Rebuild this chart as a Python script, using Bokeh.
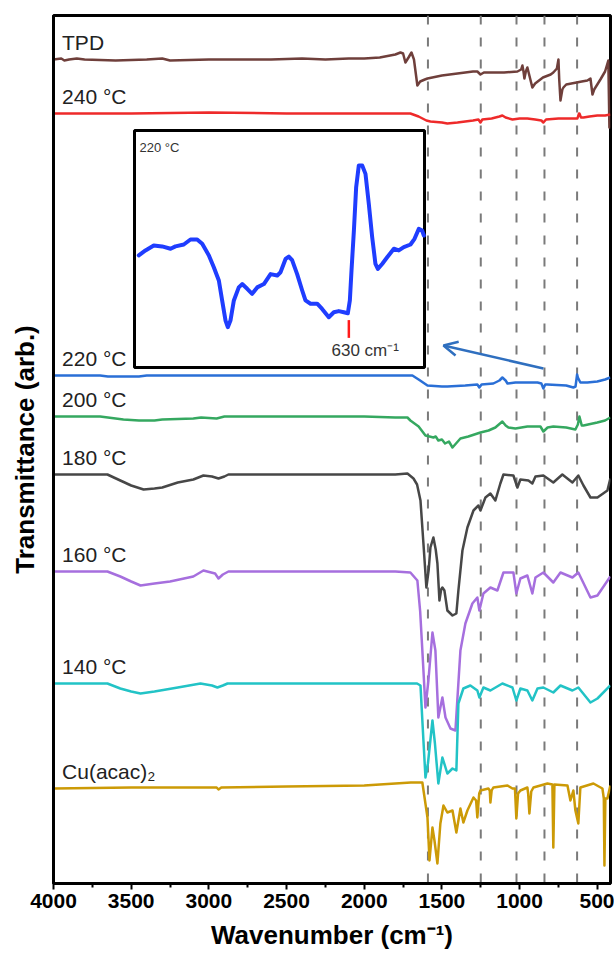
from bokeh.plotting import figure
from bokeh.models import Range1d, FixedTicker, Span, Arrow, OpenHead, ColumnDataSource
from bokeh.core.properties import value
from bokeh.embed import file_html
from bokeh.resources import INLINE

# ---------------- data ----------------
labels = ["TPD", "240 °C", "220 °C", "200 °C", "180 °C", "160 °C", "140 °C", "Cu(acac)₂"]
offsets = [8.24, 7.70, 5.08, 4.67, 4.09, 3.12, 2.00, 0.95]
colors = ["#6F3F3B", "#EE2A2A", "#2A6FD6", "#35A860", "#474747", "#A66FDE", "#22C3C6", "#CC9A06"]

tpd_wn = [4000, 3950, 3930, 3900, 3850, 3800, 3600, 3400, 3300, 3250, 3000, 2600, 2400, 2250, 2100, 2000,
          1900, 1800, 1767, 1750, 1735, 1715, 1696, 1680, 1658, 1640, 1610, 1593, 1500, 1400, 1300, 1272,
          1252, 1230, 1100, 1014, 990, 982, 975, 969, 960, 950, 918, 900, 850, 800, 783, 760, 750, 745,
          737, 725, 718, 700, 600, 564, 544, 531, 520, 512, 480, 450, 429, 422, 416]
tpd_t = [0.0, 0.01, -0.01, 0.0, 0.01, 0.0, -0.01, 0.0, 0.01, -0.01, 0.0, 0.0, 0.01, 0.0, 0.01, 0.01,
         0.02, 0.05, 0.07, 0.06, -0.03, 0.02, 0.07, 0.0, -0.26, -0.22, -0.20, -0.19, -0.16, -0.14, -0.12, -0.12,
         -0.15, -0.13, -0.13, -0.12, -0.10, -0.06, -0.12, -0.19, -0.12, -0.08, -0.28, -0.24, -0.18, -0.15, -0.13, -0.09, 0.0, -0.20,
         -0.41, -0.30, -0.28, -0.25, -0.22, -0.21, -0.19, -0.35, -0.30, -0.28, -0.20, -0.12, -0.01, -0.68, -0.68]

t240_wn = [4000, 3500, 3000, 2500, 2000, 1800, 1703, 1650, 1600, 1574, 1500, 1465, 1400, 1300, 1265, 1252,
           1240, 1180, 1130, 1111, 1090, 1046, 1000, 950, 900, 860, 847, 830, 750, 700, 650, 628, 618, 615,
           605, 589, 550, 500, 450, 416]
t240_t = [0.0, 0.0, 0.01, 0.0, 0.0, 0.0, 0.0, -0.03, -0.07, -0.08, -0.09, -0.10, -0.09, -0.07, -0.06, -0.09,
          -0.06, -0.05, -0.03, -0.02, -0.04, -0.06, -0.05, -0.05, -0.06, -0.07, -0.09, -0.06, -0.05, -0.05, -0.05, -0.05, 0.0, 0.0,
          -0.04, -0.04, -0.03, -0.02, -0.02, -0.01]

t220_wn = [4000, 3700, 3650, 3450, 3400, 3000, 2900, 2000, 1800, 1690, 1650, 1593, 1500, 1465, 1350, 1272,
           1259, 1245, 1169, 1130, 1111, 1090, 1078, 1027, 950, 885, 860, 847, 835, 821, 700, 654, 640, 630,
           625, 609, 564, 500, 450, 416]
t220_t = [0.0, 0.0, -0.01, -0.01, 0.0, 0.0, 0.0, 0.0, 0.0, 0.0, -0.04, -0.10, -0.11, -0.11, -0.10, -0.09,
          -0.12, -0.09, -0.08, -0.05, -0.02, -0.05, -0.08, -0.07, -0.07, -0.07, -0.08, -0.13, -0.09, -0.09, -0.10, -0.12, -0.11, 0.01,
          -0.02, -0.07, -0.07, -0.06, -0.04, -0.02]

t200_wn = [4000, 3700, 3650, 3550, 3450, 3350, 3300, 3100, 3050, 2950, 2900, 2500, 2000, 1800, 1722, 1703,
           1650, 1606, 1580, 1555, 1540, 1523, 1500, 1480, 1455, 1432, 1415, 1381, 1330, 1252, 1200, 1156,
           1111, 1090, 1072, 1027, 950, 866, 847, 820, 783, 700, 641, 625, 615, 600, 589, 500, 450, 416]
t200_t = [0.0, 0.0, -0.01, -0.03, -0.04, -0.04, -0.03, -0.02, -0.01, -0.02, 0.0, 0.0, 0.0, -0.01, -0.01, -0.04,
          -0.10, -0.19, -0.20, -0.21, -0.20, -0.24, -0.23, -0.27, -0.25, -0.31, -0.28, -0.22, -0.20, -0.16, -0.14, -0.11,
          -0.05, -0.09, -0.11, -0.12, -0.10, -0.10, -0.15, -0.11, -0.10, -0.11, -0.13, -0.08, 0.0, -0.09, -0.09, -0.06, -0.04, -0.01]

t180_wn = [4000, 3700, 3653, 3570, 3500, 3420, 3350, 3300, 3200, 3100, 3035, 2980, 2938, 2900, 2874, 2500,
           2000, 1800, 1722, 1683, 1660, 1638, 1619, 1600, 1585, 1574, 1555, 1540, 1529, 1516, 1505, 1497,
           1484, 1465, 1432, 1407, 1394, 1368, 1336, 1297, 1265, 1252, 1220, 1188, 1156, 1124, 1104, 1040,
           1014, 995, 943, 918, 898, 847, 783, 725, 660, 622, 589, 544, 499, 435, 416]
t180_t = [0.0, 0.0, 0.0, -0.06, -0.11, -0.15, -0.14, -0.13, -0.08, -0.05, -0.01, -0.02, -0.04, -0.02, 0.0, 0.0,
          0.0, 0.0, 0.01, -0.04, -0.10, -0.26, -0.69, -1.13, -0.95, -0.73, -0.63, -0.75, -0.89, -1.26, -1.15, -1.13,
          -1.16, -1.36, -1.41, -1.39, -1.16, -0.76, -0.53, -0.36, -0.31, -0.36, -0.23, -0.19, -0.26, -0.09, 0.0, -0.01,
          -0.13, -0.05, -0.06, -0.09, -0.02, -0.01, -0.08, 0.0, -0.08, -0.01, -0.11, -0.23, -0.23, -0.16, -0.04]

t160_wn = [4000, 3700, 3653, 3570, 3500, 3440, 3350, 3250, 3100, 3035, 2960, 2938, 2910, 2874, 2500, 2000,
           1800, 1703, 1658, 1640, 1626, 1606, 1587, 1561, 1542, 1523, 1497, 1477, 1445, 1413, 1381, 1349,
           1304, 1272, 1259, 1233, 1188, 1143, 1104, 1040, 1021, 995, 950, 918, 898, 847, 783, 737, 660,
           622, 544, 499, 416]
t160_t = [0.0, 0.0, 0.0, -0.05, -0.10, -0.14, -0.12, -0.10, -0.05, 0.01, -0.02, -0.07, -0.03, 0.0, 0.0, 0.0,
          0.0, -0.01, -0.09, -0.40, -0.79, -1.36, -1.09, -0.61, -0.79, -1.46, -1.26, -1.46, -1.57, -1.59, -0.79, -0.52,
          -0.32, -0.26, -0.39, -0.22, -0.16, -0.19, -0.01, -0.01, -0.22, -0.07, -0.04, -0.22, -0.06, -0.01, -0.11, -0.01, -0.06,
          -0.01, -0.26, -0.24, -0.05]

t140_wn = [4000, 3700, 3653, 3570, 3500, 3440, 3350, 3200, 3054, 2980, 2945, 2910, 2880, 2500, 2000, 1800,
           1660, 1638, 1619, 1606, 1590, 1561, 1545, 1523, 1497, 1465, 1432, 1407, 1394, 1362, 1317, 1272,
           1259, 1233, 1188, 1111, 1046, 1021, 995, 950, 918, 885, 847, 783, 737, 660, 622, 544, 499, 416]
t140_t = [0.0, 0.0, 0.0, -0.05, -0.08, -0.10, -0.08, -0.04, 0.0, -0.02, -0.04, -0.02, 0.0, 0.0, 0.0, 0.0,
          0.0, -0.02, -0.57, -0.94, -0.80, -0.37, -0.60, -1.00, -0.74, -0.90, -0.85, -0.87, -0.20, -0.05, -0.02, -0.07,
          -0.14, -0.04, -0.07, 0.0, -0.04, -0.17, -0.05, -0.07, -0.17, -0.05, -0.04, -0.09, -0.02, -0.07, -0.04, -0.19, -0.15, -0.02]

cu_wn = [4000, 3500, 3000, 2950, 2938, 2920, 2500, 2000, 1800, 1700, 1626, 1593, 1580, 1561, 1548, 1529,
         1510, 1490, 1465, 1432, 1407, 1381, 1362, 1336, 1297, 1280, 1272, 1260, 1252, 1201, 1192, 1188,
         1180, 1169, 1078, 1046, 1030, 1021, 1010, 995, 950, 945, 937, 925, 911, 821, 789, 783, 776, 692,
         673, 654, 641, 622, 609, 525, 467, 458, 454, 448, 435, 416]
cu_t = [0.0, 0.01, 0.01, 0.01, -0.01, 0.01, 0.02, 0.03, 0.05, 0.06, 0.06, -0.29, -0.72, -0.39, -0.52, -0.75,
        -0.35, -0.17, -0.24, -0.22, -0.44, -0.20, -0.34, -0.22, -0.09, -0.12, -0.29, -0.05, -0.02, 0.0, -0.02, -0.14,
        -0.02, 0.01, 0.03, 0.0, 0.0, -0.30, -0.05, -0.02, 0.01, -0.05, -0.25, -0.03, 0.01, 0.05, 0.04, -0.59, 0.04, 0.03,
        -0.12, -0.02, -0.22, -0.35, 0.01, 0.05, 0.0, -0.10, -0.77, -0.10, -0.10, 0.03]

series_wn = [tpd_wn, t240_wn, t220_wn, t200_wn, t180_wn, t160_wn, t140_wn, cu_wn]
series_t = [tpd_t, t240_t, t220_t, t200_t, t180_t, t160_t, t140_t, cu_t]

# inset: 220 °C spectrum, zoomed near 630 cm-1 (arbitrary scale 0..1)
inset_wn = [796.6, 791.3, 784.7, 778.1, 771.4, 767.5, 760.9, 755.6, 750.3, 746.3, 741.0, 737.1, 733.1,
            730.5, 727.8, 726.0, 723.9, 721.2, 717.3, 714.6, 710.6, 706.7, 702.7, 697.4, 692.1, 686.8,
            684.2, 680.2, 677.6, 675.0, 671.0, 667.0, 664.4, 660.4, 655.1, 651.2, 645.9, 641.9, 638.0,
            634.0, 630.8, 629.2, 627.9, 626.0, 624.2, 622.1, 619.4, 616.8, 614.2, 611.5, 608.9, 607.0,
            603.6, 599.6, 594.3, 590.4, 586.4, 581.1, 577.9, 574.5, 571.9, 570.5]
inset_t = [0.473, 0.494, 0.515, 0.511, 0.501, 0.511, 0.519, 0.540, 0.540, 0.522, 0.473, 0.423, 0.367,
           0.283, 0.198, 0.170, 0.198, 0.283, 0.338, 0.352, 0.332, 0.311, 0.338, 0.352, 0.394, 0.388,
           0.402, 0.458, 0.468, 0.453, 0.394, 0.325, 0.283, 0.269, 0.269, 0.247, 0.212, 0.233, 0.238,
           0.233, 0.229, 0.283, 0.409, 0.578, 0.761, 0.852, 0.852, 0.817, 0.692, 0.550, 0.437, 0.416,
           0.437, 0.465, 0.501, 0.494, 0.508, 0.519, 0.543, 0.585, 0.578, 0.557]
inset_xlim = (800, 570)
inset_ylim = (0.0, 1.0)
inset_marker = 630

dashed_wn = [1590, 1250, 1020, 840, 630]
x_ticks = [4000, 3500, 3000, 2500, 2000, 1500, 1000, 500]
x_minor = [3750, 3250, 2750, 2250, 1750, 1250, 750]

for a, b in zip(series_wn, series_t):
    assert len(a) == len(b), (len(a), len(b))
assert len(inset_wn) == len(inset_t)

# ---------------- layout ----------------
W, H = 614, 957
FL, FR, FT, FB = 53, 610, 15, 883   # frame edges (px)
XR = (4000, 415)
YR = (0.0, 8.68)

FONT = value("Liberation Sans")

p = figure(width=W, height=H, output_backend="svg", toolbar_location=None,
           x_range=Range1d(*XR), y_range=Range1d(*YR),
           min_border_left=FL, min_border_right=W - FR, min_border_top=FT, min_border_bottom=H - FB)
p.background_fill_color = "white"
p.border_fill_color = "white"
p.xgrid.visible = False
p.ygrid.visible = False
p.outline_line_color = "black"
p.outline_line_width = 3
p.outline_line_alpha = 1.0

# x axis
xa = p.xaxis[0]
xa.ticker = FixedTicker(ticks=x_ticks, minor_ticks=x_minor)
xa.axis_line_width = 3
xa.axis_line_color = "black"
xa.major_tick_line_width = 2
xa.major_tick_out = 6
xa.major_tick_in = 0
xa.minor_tick_line_width = 2
xa.minor_tick_out = 4
xa.minor_tick_in = 0
xa.major_label_text_font = "Liberation Sans"
xa.major_label_text_font_style = "bold"
xa.major_label_text_font_size = "21px"
xa.major_label_text_color = "black"
xa.major_label_standoff = 4
xa.axis_label = "Wavenumber (cm⁻¹)"
xa.axis_label_text_font = "Liberation Sans"
xa.axis_label_text_font_style = "bold"
xa.axis_label_text_font_size = "26px"
xa.axis_label_text_color = "black"
xa.axis_label_standoff = 9

# y axis
ya = p.yaxis[0]
ya.ticker = FixedTicker(ticks=[])
ya.axis_line_width = 3
ya.axis_line_color = "black"
ya.major_tick_line_color = None
ya.minor_tick_line_color = None
ya.major_label_text_font_size = "0px"
ya.major_tick_out = 0
ya.major_label_standoff = 0
ya.axis_label = "Transmittance (arb.)"
ya.axis_label_text_font = "Liberation Sans"
ya.axis_label_text_font_style = "bold"
ya.axis_label_text_font_size = "26px"
ya.axis_label_text_color = "black"
ya.axis_label_standoff = 14

# dashed guide lines
for w in dashed_wn:
    p.add_layout(Span(location=w, dimension="height", line_color="#7a7a7a", line_width=2,
                      line_dash="9 13", level="underlay"))

# spectra
for wn, t, off, col in zip(series_wn, series_t, offsets, colors):
    p.line(x=wn, y=[off + v for v in t], line_color=col, line_width=2.5, line_join="round")

# spectrum labels
lab_src = ColumnDataSource(dict(x=[3945] * len(labels), y=[o + 0.17 for o in offsets], text=labels))
p.text(x="x", y="y", text="text", source=lab_src, text_font=FONT, text_font_size="21px",
       text_color="#222222", text_baseline="middle", text_align="left")

# ---------------- inset (drawn through its own ranges) ----------------
IL, IR, IT, IB = 134, 424, 130, 367  # inset box (px)
fx0 = (IL - FL) / (FR - FL)
fx1 = (IR - FL) / (FR - FL)
fy0 = (FB - IB) / (FB - FT)
fy1 = (FB - IT) / (FB - FT)
sx = (inset_xlim[1] - inset_xlim[0]) / (fx1 - fx0)
x0 = inset_xlim[0] - fx0 * sx
sy = (inset_ylim[1] - inset_ylim[0]) / (fy1 - fy0)
y0 = inset_ylim[0] - fy0 * sy
p.extra_x_ranges = {"ix": Range1d(x0, x0 + sx)}
p.extra_y_ranges = {"iy": Range1d(y0, y0 + sy)}

p.quad(left=[inset_xlim[1]], right=[inset_xlim[0]], bottom=[inset_ylim[0]], top=[inset_ylim[1]],
       fill_color="white", line_color="black", line_width=3, x_range_name="ix", y_range_name="iy")
p.line(x=inset_wn, y=inset_t, line_color="#1F3DFF", line_width=4, line_join="round", line_cap="round",
       x_range_name="ix", y_range_name="iy")
p.segment(x0=[inset_marker], y0=[0.125], x1=[inset_marker], y1=[0.2], line_color="#FF1A1A", line_width=2.5,
          x_range_name="ix", y_range_name="iy")
p.text(x=[617], y=[0.07], text=["630 cm⁻¹"], text_font=FONT, text_font_size="17px", text_color="#333333",
       text_align="center", text_baseline="middle", x_range_name="ix", y_range_name="iy")
p.text(x=[796], y=[0.93], text=["220 °C"], text_font=FONT, text_font_size="13px", text_color="#333333",
       text_align="left", text_baseline="middle", x_range_name="ix", y_range_name="iy")

# arrow pointing from the 220 °C trace to the inset
p.add_layout(Arrow(end=OpenHead(size=14, line_color="#2F6FBF", line_width=2.5),
                   x_start=847, y_start=5.15, x_end=1490, y_end=5.38,
                   line_color="#2F6FBF", line_width=2.5))

open("out.html", "w").write(file_html(p, INLINE))
